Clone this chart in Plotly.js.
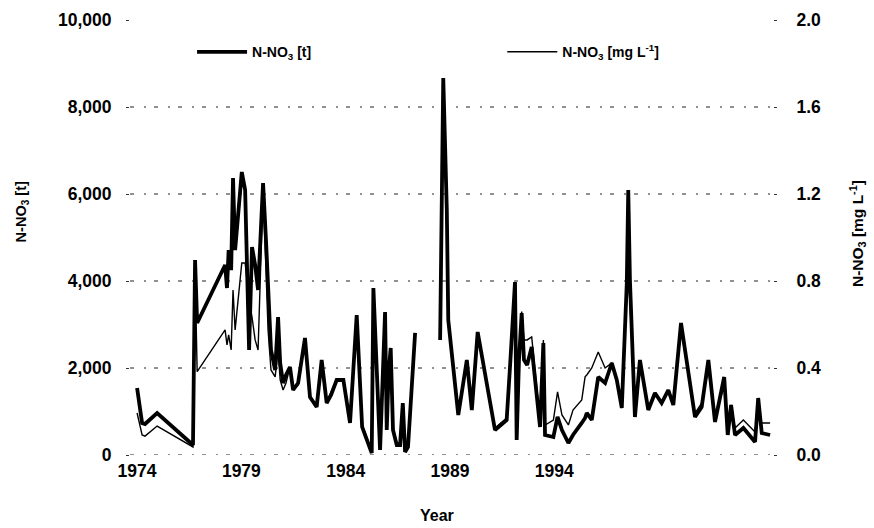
<!DOCTYPE html>
<html>
<head>
<meta charset="utf-8">
<script src="https://cdn.plot.ly/plotly-3.0.1.min.js"></script>
<style>html,body{margin:0;padding:0;background:#fff;}#chart{width:874px;height:528px;}</style>
</head>
<body>
<div id="chart"></div>
<script>
// Sampling dates (decimal years); null marks the gap in the record
const years = [
  1974.00, 1974.24, 1974.38, 1974.96, 1976.68, 1976.78, 1976.88, 1978.22, 1978.31, 1978.39,
  1978.51, 1978.60, 1978.70, 1979.02, 1979.18, 1979.37, 1979.51, 1979.66, 1979.80, 1980.04,
  1980.18, 1980.28, 1980.42, 1980.62, 1980.76, 1980.86, 1981.00, 1981.14, 1981.33, 1981.48,
  1981.72, 1982.05, 1982.29, 1982.61, 1982.85, 1983.09, 1983.30, 1983.57, 1983.89, 1984.21,
  1984.53, 1984.79, 1985.25, 1985.33, 1985.51, 1985.65, 1985.89, 1985.97, 1986.06, 1986.16,
  1986.27, 1986.45, 1986.61, 1986.74, 1986.85, 1986.99, 1987.33, 1987.90,
  1988.53, 1988.68, 1988.85, 1988.92, 1989.40, 1989.81, 1990.05, 1990.33, 1991.16, 1991.72,
  1991.88, 1992.12, 1992.20, 1992.31, 1992.44, 1992.55, 1992.70, 1992.92, 1993.32, 1993.48,
  1993.56, 1993.96, 1994.16, 1994.37, 1994.68, 1994.90, 1995.32, 1995.48, 1995.56, 1995.80,
  1996.11, 1996.44, 1996.76, 1997.00, 1997.24, 1997.48, 1997.55, 1997.63, 1997.87, 1998.11,
  1998.51, 1998.83, 1999.15, 1999.47, 1999.71, 2000.08, 2000.75, 2001.07, 2001.39, 2001.71,
  2002.15, 2002.32, 2002.48, 2002.67, 2003.07, 2003.63, 2003.78, 2003.95, 2004.35
];
// N-NO3 load [t]
const loadT = [
  1540, 736, 713, 966, 230, 4483, 3034, 4368, 3839, 4713,
  4250, 6368, 4713, 6506, 6092, 2414, 4782, 4368, 3793, 6253,
  4943, 3724, 2414, 1954, 3172, 2115, 1655, 1839, 2023, 1494,
  1655, 2690, 1333, 1103, 2184, 1195, 1379, 1724, 1724, 736,
  3218, 644, 46, 3839, 1425, 115, 3287, 575, 1885, 2460,
  575, 230, 230, 1195, 69, 184, 2805, null,
  2644, 8667, 5632, 3103, 920, 2184, 1034, 2828, 575, 805,
  2023, 3977, 345, 2184, 3264, 2184, 2069, 2483, 644, 2575,
  460, 414, 874, 575, 276, 460, 736, 851, 966, 805,
  1793, 1655, 2115, 1724, 1080, 3954, 6092, 4023, 874, 2184,
  1034, 1425, 1195, 1494, 1149, 3034, 874, 1103, 2184, 759,
  1793, 460, 1149, 460, 621, 299, 1310, 506, 460
];
// N-NO3 concentration [mg L-1]
const concMgL = [
  0.193, 0.092, 0.087, 0.133, 0.037, 0.850, 0.383, 0.575, 0.506, 0.552,
  0.483, 0.759, 0.575, 0.883, 0.883, 0.713, 0.634, 0.529, 0.483, 1.218,
  0.851, 0.575, 0.391, 0.359, 0.483, 0.345, 0.299, 0.331, 0.405, 0.299,
  0.322, 0.529, 0.267, 0.230, 0.428, 0.244, 0.290, 0.345, 0.345, 0.161,
  0.630, 0.138, 0.014, 0.749, 0.299, 0.032, 0.630, 0.138, 0.382, 0.483,
  0.124, 0.055, 0.055, 0.230, 0.023, 0.041, 0.552, null,
  0.529, 1.678, 1.034, 0.621, 0.193, 0.428, 0.216, 0.552, 0.124, 0.170,
  0.391, 0.759, 0.370, 0.460, 0.660, 0.529, 0.529, 0.543, 0.161, 0.529,
  0.138, 0.161, 0.290, 0.184, 0.138, 0.207, 0.253, 0.359, 0.368, 0.400,
  0.474, 0.400, 0.423, 0.345, 0.216, 0.736, 0.800, 0.713, 0.184, 0.428,
  0.216, 0.285, 0.239, 0.299, 0.230, 0.575, 0.193, 0.239, 0.391, 0.170,
  0.322, 0.138, 0.230, 0.124, 0.161, 0.106, 0.230, 0.147, 0.147
];
const yearTicks = [1974, 1979, 1984, 1989, 1994];
const loadTicks = [0, 2000, 4000, 6000, 8000, 10000];
const gridTicks = [0, 2000, 4000, 6000, 8000];
const concTicks = [0, 0.4, 0.8, 1.2, 1.6, 2.0];

const FONT = 'Liberation Sans, Arial, Helvetica, sans-serif';
const tickFont = {family: FONT, size: 17.5, color: '#000', weight: 'bold'};
const legFont = {family: FONT, size: 14, color: '#000', weight: 'bold'};

const traces = [
  {x: years, y: loadT, type: 'scatter', mode: 'lines', name: 'N-NO<sub>3</sub> [t]',
   line: {color: '#000', width: 3.8}, connectgaps: false, yaxis: 'y', legend: 'legend'},
  {x: years, y: concMgL, type: 'scatter', mode: 'lines', name: 'N-NO<sub>3</sub> [mg L<sup>-1</sup>]',
   line: {color: '#000', width: 1.4}, connectgaps: false, yaxis: 'y2', legend: 'legend2'}
];

// sparse dashed horizontal gridlines (none at the top 10,000 level)
const gridShapes = gridTicks.map(v => ({
  type: 'line', layer: 'below', xref: 'paper', x0: 0, x1: 1, yref: 'y', y0: v, y1: v,
  line: {color: '#222', width: 1, dash: '4px,10px,2px,8px'}
}));

const layout = {
  width: 874, height: 528,
  margin: {l: 130, r: 101, t: 20, b: 73},
  paper_bgcolor: '#fff', plot_bgcolor: '#fff',
  font: {family: FONT, color: '#000'},
  showlegend: true,
  legend: {x: 0.0965, y: 0.926, xanchor: 'left', yanchor: 'middle', font: legFont,
    itemwidth: 50, bgcolor: 'rgba(0,0,0,0)'},
  legend2: {x: 0.579, y: 0.926, xanchor: 'left', yanchor: 'middle', font: legFont,
    itemwidth: 50, bgcolor: 'rgba(0,0,0,0)'},
  xaxis: {range: [1973.66, 2004.49], tickvals: yearTicks, ticktext: yearTicks.map(String),
    showgrid: false, zeroline: false, showline: false, ticks: '', tickfont: tickFont,
    ticklabelstandoff: 3},
  yaxis: {range: [0, 10000], tickvals: loadTicks, tickformat: ',d', tickfont: tickFont,
    showgrid: false, zeroline: false, showline: false, ticks: 'outside', ticklen: 3,
    tickcolor: '#333', ticklabelstandoff: 11},
  yaxis2: {range: [0, 2], tickvals: concTicks, tickformat: '.1f', overlaying: 'y', side: 'right',
    tickfont: tickFont, showgrid: false, zeroline: false, showline: false,
    ticks: 'outside', ticklen: 3, tickcolor: '#333', ticklabelstandoff: 16},
  shapes: gridShapes,
  annotations: [
    {text: 'N-NO<sub>3</sub> [t]', xref: 'paper', yref: 'paper', x: -0.168, y: 0.56,
     xanchor: 'center', yanchor: 'middle',
     showarrow: false, textangle: -90, font: {family: FONT, size: 14.5, weight: 'bold'}},
    {text: 'N-NO<sub>3</sub> [mg L<sup>-1</sup>]', xref: 'paper', yref: 'paper', x: 1.132, y: 0.51,
     xanchor: 'center', yanchor: 'middle',
     showarrow: false, textangle: -90, font: {family: FONT, size: 15.5, weight: 'bold'}},
    {text: 'Year', xref: 'paper', yref: 'paper', x: 0.477, y: -0.138,
     xanchor: 'center', yanchor: 'middle',
     showarrow: false, font: {family: FONT, size: 16, weight: 'bold'}}
  ]
};

Plotly.newPlot('chart', traces, layout, {staticPlot: true, displayModeBar: false});
</script>
</body>
</html>
